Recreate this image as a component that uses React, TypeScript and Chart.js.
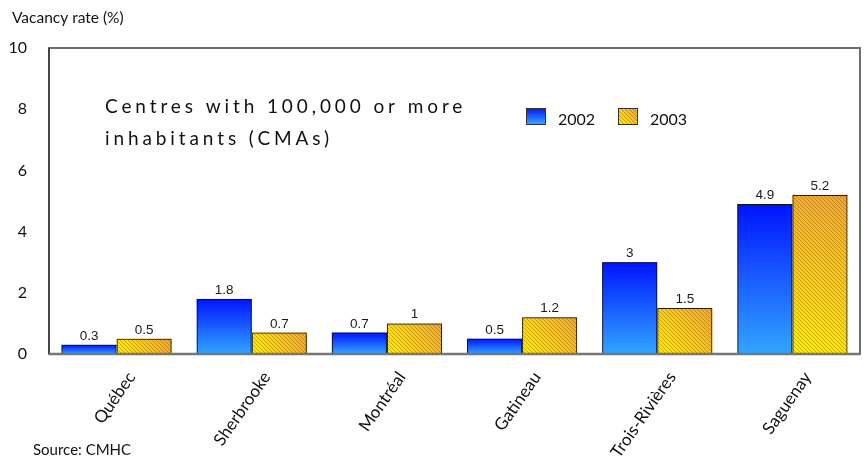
import { useEffect, useRef } from "react";
import { Chart, registerables } from "chart.js";

Chart.register(...registerables);

// Rental vacancy rates by census metropolitan area
const cities = ["Québec", "Sherbrooke", "Montréal", "Gatineau", "Trois-Rivières", "Saguenay"];
const rate2002 = [0.3, 1.8, 0.7, 0.5, 3, 4.9];
const rate2003 = [0.5, 0.7, 1, 1.2, 1.5, 5.2];
const seriesLabels = ["2002", "2003"];
const yTicks = [0, 2, 4, 6, 8, 10];
const titleLines = ["Centres with 100,000 or more", "inhabitants (CMAs)"];
const axisTitle = "Vacancy rate (%)";
const sourceNote = "Source: CMHC";

const GILL = "Lato, 'Open Sans', sans-serif";
const ARIAL = "'Liberation Sans', Arial, sans-serif";

let hatchCanvas: HTMLCanvasElement | null = null;
function hatch(): HTMLCanvasElement {
  if (hatchCanvas) return hatchCanvas;
  const c = document.createElement("canvas");
  c.width = 4;
  c.height = 4;
  const g = c.getContext("2d")!;
  g.strokeStyle = "rgba(120,70,0,0.38)";
  g.lineWidth = 1;
  g.beginPath();
  g.moveTo(-1, -1);
  g.lineTo(5, 5);
  g.moveTo(-1, 3);
  g.lineTo(1, 5);
  g.moveTo(3, -1);
  g.lineTo(5, 1);
  g.stroke();
  hatchCanvas = c;
  return c;
}

function paintBlue(ctx: CanvasRenderingContext2D, l: number, t: number, r: number, b: number) {
  const g = ctx.createLinearGradient(0, t, 0, b);
  g.addColorStop(0, "#0014ff");
  g.addColorStop(1, "#32a6ff");
  ctx.fillStyle = g;
  ctx.fillRect(l, t, r - l, b - t);
}

function paintGold(ctx: CanvasRenderingContext2D, l: number, t: number, r: number, b: number) {
  const g = ctx.createLinearGradient(l, b, r, t);
  g.addColorStop(0, "#fff000");
  g.addColorStop(1, "#f0a634");
  ctx.fillStyle = g;
  ctx.fillRect(l, t, r - l, b - t);
  const p = ctx.createPattern(hatch(), "repeat");
  if (p) {
    ctx.fillStyle = p;
    ctx.fillRect(l, t, r - l, b - t);
  }
}

const barFillPlugin = {
  id: "barFill",
  beforeDatasetsDraw(chart: any) {
    const ctx: CanvasRenderingContext2D = chart.ctx;
    ctx.save();
    chart.data.datasets.forEach((_: any, di: number) => {
      const meta = chart.getDatasetMeta(di);
      meta.data.forEach((el: any) => {
        const { x, y, base, width } = el.getProps(["x", "y", "base", "width"], true);
        const l = x - width / 2;
        const r = x + width / 2;
        if (di === 0) paintBlue(ctx, l, y, r, base);
        else paintGold(ctx, l, y, r, base);
      });
    });
    ctx.restore();
  },
};

const frameAndLabelsPlugin = {
  id: "frameAndLabels",
  afterDatasetsDraw(chart: any) {
    const ctx: CanvasRenderingContext2D = chart.ctx;
    const { left, top, right, bottom } = chart.chartArea;
    ctx.save();
    // plot frame
    ctx.strokeStyle = "#6e6e6e";
    ctx.lineWidth = 2;
    ctx.strokeRect(left, top, right - left, bottom - top);
    ctx.strokeStyle = "#3a3a3a";
    ctx.lineWidth = 1.5;
    ctx.beginPath();
    ctx.moveTo(left, top);
    ctx.lineTo(left, bottom);
    ctx.stroke();
    ctx.strokeStyle = "#767676";
    ctx.lineWidth = 2.5;
    ctx.beginPath();
    ctx.moveTo(left, bottom);
    ctx.lineTo(right, bottom);
    ctx.stroke();

    // value labels
    ctx.fillStyle = "#1a1a1a";
    ctx.font = `13.5px ${ARIAL}`;
    ctx.textAlign = "center";
    ctx.textBaseline = "bottom";
    chart.data.datasets.forEach((ds: any, di: number) => {
      const meta = chart.getDatasetMeta(di);
      meta.data.forEach((el: any, i: number) => {
        const { x, y } = el.getProps(["x", "y"], true);
        ctx.fillText(String(ds.data[i]), x, y - 2);
      });
    });
    ctx.restore();
  },
  afterDraw(chart: any) {
    const ctx: CanvasRenderingContext2D = chart.ctx;
    ctx.save();
    ctx.fillStyle = "#111";
    ctx.textAlign = "left";
    ctx.textBaseline = "alphabetic";
    ctx.font = `15.5px ${GILL}`;
    ctx.fillText(axisTitle, 12, 23);
    ctx.font = `15px ${GILL}`;
    ctx.fillText(sourceNote, 33, 455);

    // inset heading
    ctx.font = `19px ${GILL}`;
    (ctx as any).letterSpacing = "3.9px";
    ctx.fillText(titleLines[0], 105, 113);
    ctx.fillText(titleLines[1], 105, 145);
    (ctx as any).letterSpacing = "0px";

    // legend
    const items = [
      { x: 526, paint: paintBlue },
      { x: 618, paint: paintGold },
    ];
    ctx.font = `16px ${GILL}`;
    items.forEach((it, i) => {
      it.paint(ctx, it.x, 108, it.x + 19, 124);
      ctx.strokeStyle = "#333";
      ctx.lineWidth = 1;
      ctx.strokeRect(it.x + 0.5, 108.5, 19, 16);
      ctx.fillStyle = "#111";
      ctx.fillText(seriesLabels[i], it.x + 32, 125);
    });
    ctx.restore();
  },
};

export default function App() {
  const ref = useRef<HTMLCanvasElement | null>(null);

  useEffect(() => {
    document.body.style.margin = "0";
    const canvas = ref.current;
    if (!canvas) return;
    const chart = new Chart(canvas, {
      type: "bar",
      data: {
        labels: cities,
        datasets: [
          {
            label: seriesLabels[0],
            data: rate2002,
            backgroundColor: "rgba(0,0,0,0)",
            borderColor: "#101030",
            borderWidth: 1,
            categoryPercentage: 0.815,
            barPercentage: 1,
          },
          {
            label: seriesLabels[1],
            data: rate2003,
            backgroundColor: "rgba(0,0,0,0)",
            borderColor: "#2a2000",
            borderWidth: 1,
            categoryPercentage: 0.815,
            barPercentage: 1,
          },
        ],
      },
      options: {
        responsive: false,
        animation: false,
        layout: { padding: { top: 48, right: 7, left: 0, bottom: 0 } },
        plugins: {
          legend: { display: false },
          tooltip: { enabled: false },
          title: { display: false },
        },
        scales: {
          x: {
            grid: { display: false, drawTicks: false },
            border: { display: false },
            ticks: {
              autoSkip: false,
              minRotation: 55,
              maxRotation: 55,
              padding: 14,
              labelOffset: 15,
              color: "#111",
              font: { family: GILL, size: 17 },
            },
            afterFit(scale: any) {
              scale.height = 105;
            },
          },
          y: {
            min: 0,
            max: 10,
            afterBuildTicks(scale: any) {
              scale.ticks = yTicks.map((v) => ({ value: v }));
            },
            grid: { display: false, drawTicks: false },
            border: { display: false },
            ticks: {
              padding: 22,
              color: "#111",
              font: { family: GILL, size: 16 },
            },
            afterFit(scale: any) {
              scale.width = 49;
            },
          },
        },
      },
      plugins: [barFillPlugin, frameAndLabelsPlugin],
    });
    return () => chart.destroy();
  }, []);

  return <canvas ref={ref} width={867} height={459} style={{ display: "block" }} />;
}
